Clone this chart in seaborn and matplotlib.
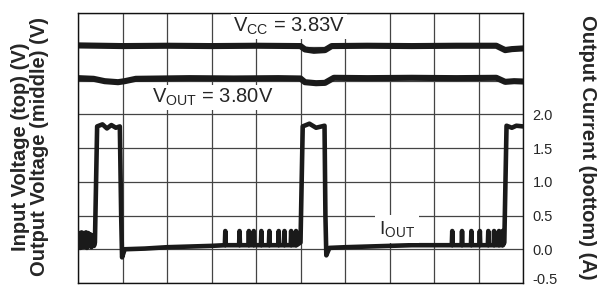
import numpy as np
import pandas as pd
import matplotlib
matplotlib.use("Agg")
import matplotlib.pyplot as plt
import matplotlib.transforms as mtransforms
import seaborn as sns

# ==================================================
# DATA  (time in scope divisions, 10 across)
# ==================================================

# supply and output voltage traces, position in screen divisions (0..8)
vcc_t = [0.0, 1.0, 2.0, 3.0, 4.0, 5.0, 5.1, 5.3, 5.55, 5.7, 6.5, 7.5, 8.5, 9.4, 9.6, 9.75, 10.0]
vcc_div = [7.04, 7.02, 7.03, 7.02, 7.03, 7.02, 6.92, 6.88, 6.90, 7.02, 7.03, 7.02, 7.03, 7.03, 6.90, 6.93, 6.95]

vout_t = [0.0, 0.35, 0.6, 0.9, 1.05, 1.3, 2.5, 3.5, 4.5, 5.0, 5.1, 5.35, 5.55, 5.75, 6.5, 7.5, 8.5, 9.4, 9.6, 9.8, 10.0]
vout_div = [6.07, 6.05, 5.98, 5.95, 5.98, 6.05, 6.07, 6.06, 6.07, 6.06, 5.95, 5.92, 5.93, 6.08, 6.07, 6.08, 6.07, 6.08, 5.96, 5.98, 5.97]

# output current trace (A)
cur_t = [0.00, 0.03, 0.05, 0.08, 0.10, 0.13, 0.15, 0.18, 0.20, 0.23, 0.25, 0.28, 0.30, 0.33,
         0.36, 0.38, 0.43, 0.55, 0.65, 0.75, 0.85, 0.94, 0.97, 0.99, 1.05, 1.5, 2.0, 2.5, 3.0]
cur_a = [0.05, 0.24, 0.02, 0.25, 0.03, 0.24, 0.04, 0.25, 0.02, 0.24, 0.05, 0.22, 0.03, 0.20,
         0.05, 0.10, 1.82, 1.85, 1.79, 1.84, 1.80, 1.82, 0.50, -0.12, 0.00, 0.01, 0.03, 0.04, 0.05]

cur_t2 = [5.00, 5.05, 5.20, 5.35, 5.54, 5.56, 5.58, 5.65, 6.0, 6.5, 7.0, 7.5, 8.0, 8.3]
cur_a2 = [0.10, 1.82, 1.86, 1.80, 1.83, 0.50, -0.09, 0.02, 0.03, 0.04, 0.05, 0.06, 0.06, 0.06]

cur_t3 = [9.58, 9.63, 9.75, 9.85, 10.0]
cur_a3 = [0.10, 1.83, 1.80, 1.83, 1.82]

# switching spikes on the current baseline
spike_t1 = [3.31, 3.63, 3.84, 3.95, 4.12, 4.30, 4.51, 4.64, 4.79, 4.90]
spike_t2 = [8.41, 8.63, 8.84, 9.03, 9.22, 9.35, 9.46, 9.54]
spike_top = 0.27
spike_base = 0.06

right_ticks = [-0.5, 0.0, 0.5, 1.0, 1.5, 2.0]

# ==================================================
# BUILD CURRENT PATH
# ==================================================

def spike_path(times):
    xs, ys = [], []
    for t in times:
        xs += [t - 0.01, t, t + 0.01]
        ys += [spike_base, spike_top, spike_base]
    return xs, ys

s1x, s1y = spike_path(spike_t1)
s2x, s2y = spike_path(spike_t2)

cur_df = pd.DataFrame({
    "t": cur_t + s1x + cur_t2 + s2x + cur_t3,
    "i": cur_a + s1y + cur_a2 + s2y + cur_a3,
})

# ==================================================
# PLOT
# ==================================================

sns.set_style("white")
plt.rcParams["font.family"] = ["Liberation Sans", "DejaVu Sans"]
plt.rcParams["mathtext.default"] = "regular"

fig = plt.figure(figsize=(5.97, 2.88), dpi=100)
ax = fig.add_axes([78 / 597, 5 / 288, 445 / 597, 270 / 288])

ax.set_xlim(0, 10)
ax.set_ylim(0, 8)
ax.set_xticks(np.arange(0, 11, 1))
ax.set_yticks(np.arange(0, 9, 1))
ax.set_xticklabels([])
ax.set_yticklabels([])
ax.tick_params(length=0)
ax.grid(True, color="#444444", lw=0.9)
for sp in ax.spines.values():
    sp.set_color("#111111")
    sp.set_linewidth(1.0)

sns.lineplot(x=vcc_t, y=vcc_div, ax=ax, color="#1a1a1a", lw=4.4,
             estimator=None, sort=False)
sns.lineplot(x=vout_t, y=vout_div, ax=ax, color="#1a1a1a", lw=4.4,
             estimator=None, sort=False)

ax2 = ax.twinx()
ax2.set_ylim(-0.5, 3.5)
ax2.set_yticks(right_ticks)
ax2.set_yticklabels([f"{v:.1f}" for v in right_ticks], fontsize=10.5)
ax2.tick_params(length=0, pad=7)
for sp in ax2.spines.values():
    sp.set_visible(False)

# keep the lowest tick label inside the picture
low = ax2.get_yticklabels()[0]
low.set_transform(low.get_transform() + mtransforms.ScaledTranslation(0, 3 / 72, fig.dpi_scale_trans))

sns.lineplot(data=cur_df, x="t", y="i", ax=ax2, color="#1a1a1a", lw=3.3,
             estimator=None, sort=False)
ax2.set_ylabel("")
ax.set_xlabel("")

# labels inside the plot (white box hides the grid behind them)
box = dict(facecolor="white", edgecolor="none", pad=1.5)
ax.text(4.74, 7.6, r"V$_{CC}$ = 3.83V", fontsize=14.5, ha="center", va="center", bbox=box)
ax.text(3.02, 5.5, r"V$_{OUT}$ = 3.80V", fontsize=14.5, ha="center", va="center", bbox=box)
ax2.text(7.16, 0.3, r"I$_{OUT}$", fontsize=14, ha="center", va="center",
         bbox=dict(facecolor="white", edgecolor="none", pad=3))

# axis titles
fig.text(21 / 597, 0.49, "Input Voltage (top) (V)", rotation=90, fontsize=14.5,
         fontweight="bold", ha="center", va="center")
fig.text(40 / 597, 0.49, "Output Voltage (middle) (V)", rotation=90, fontsize=14.5,
         fontweight="bold", ha="center", va="center")
fig.text(588 / 597, 0.49, "Output Current (bottom) (A)", rotation=-90, fontsize=14.5,
         fontweight="bold", ha="center", va="center")

plt.savefig("out.png", dpi=100)
plt.close()
